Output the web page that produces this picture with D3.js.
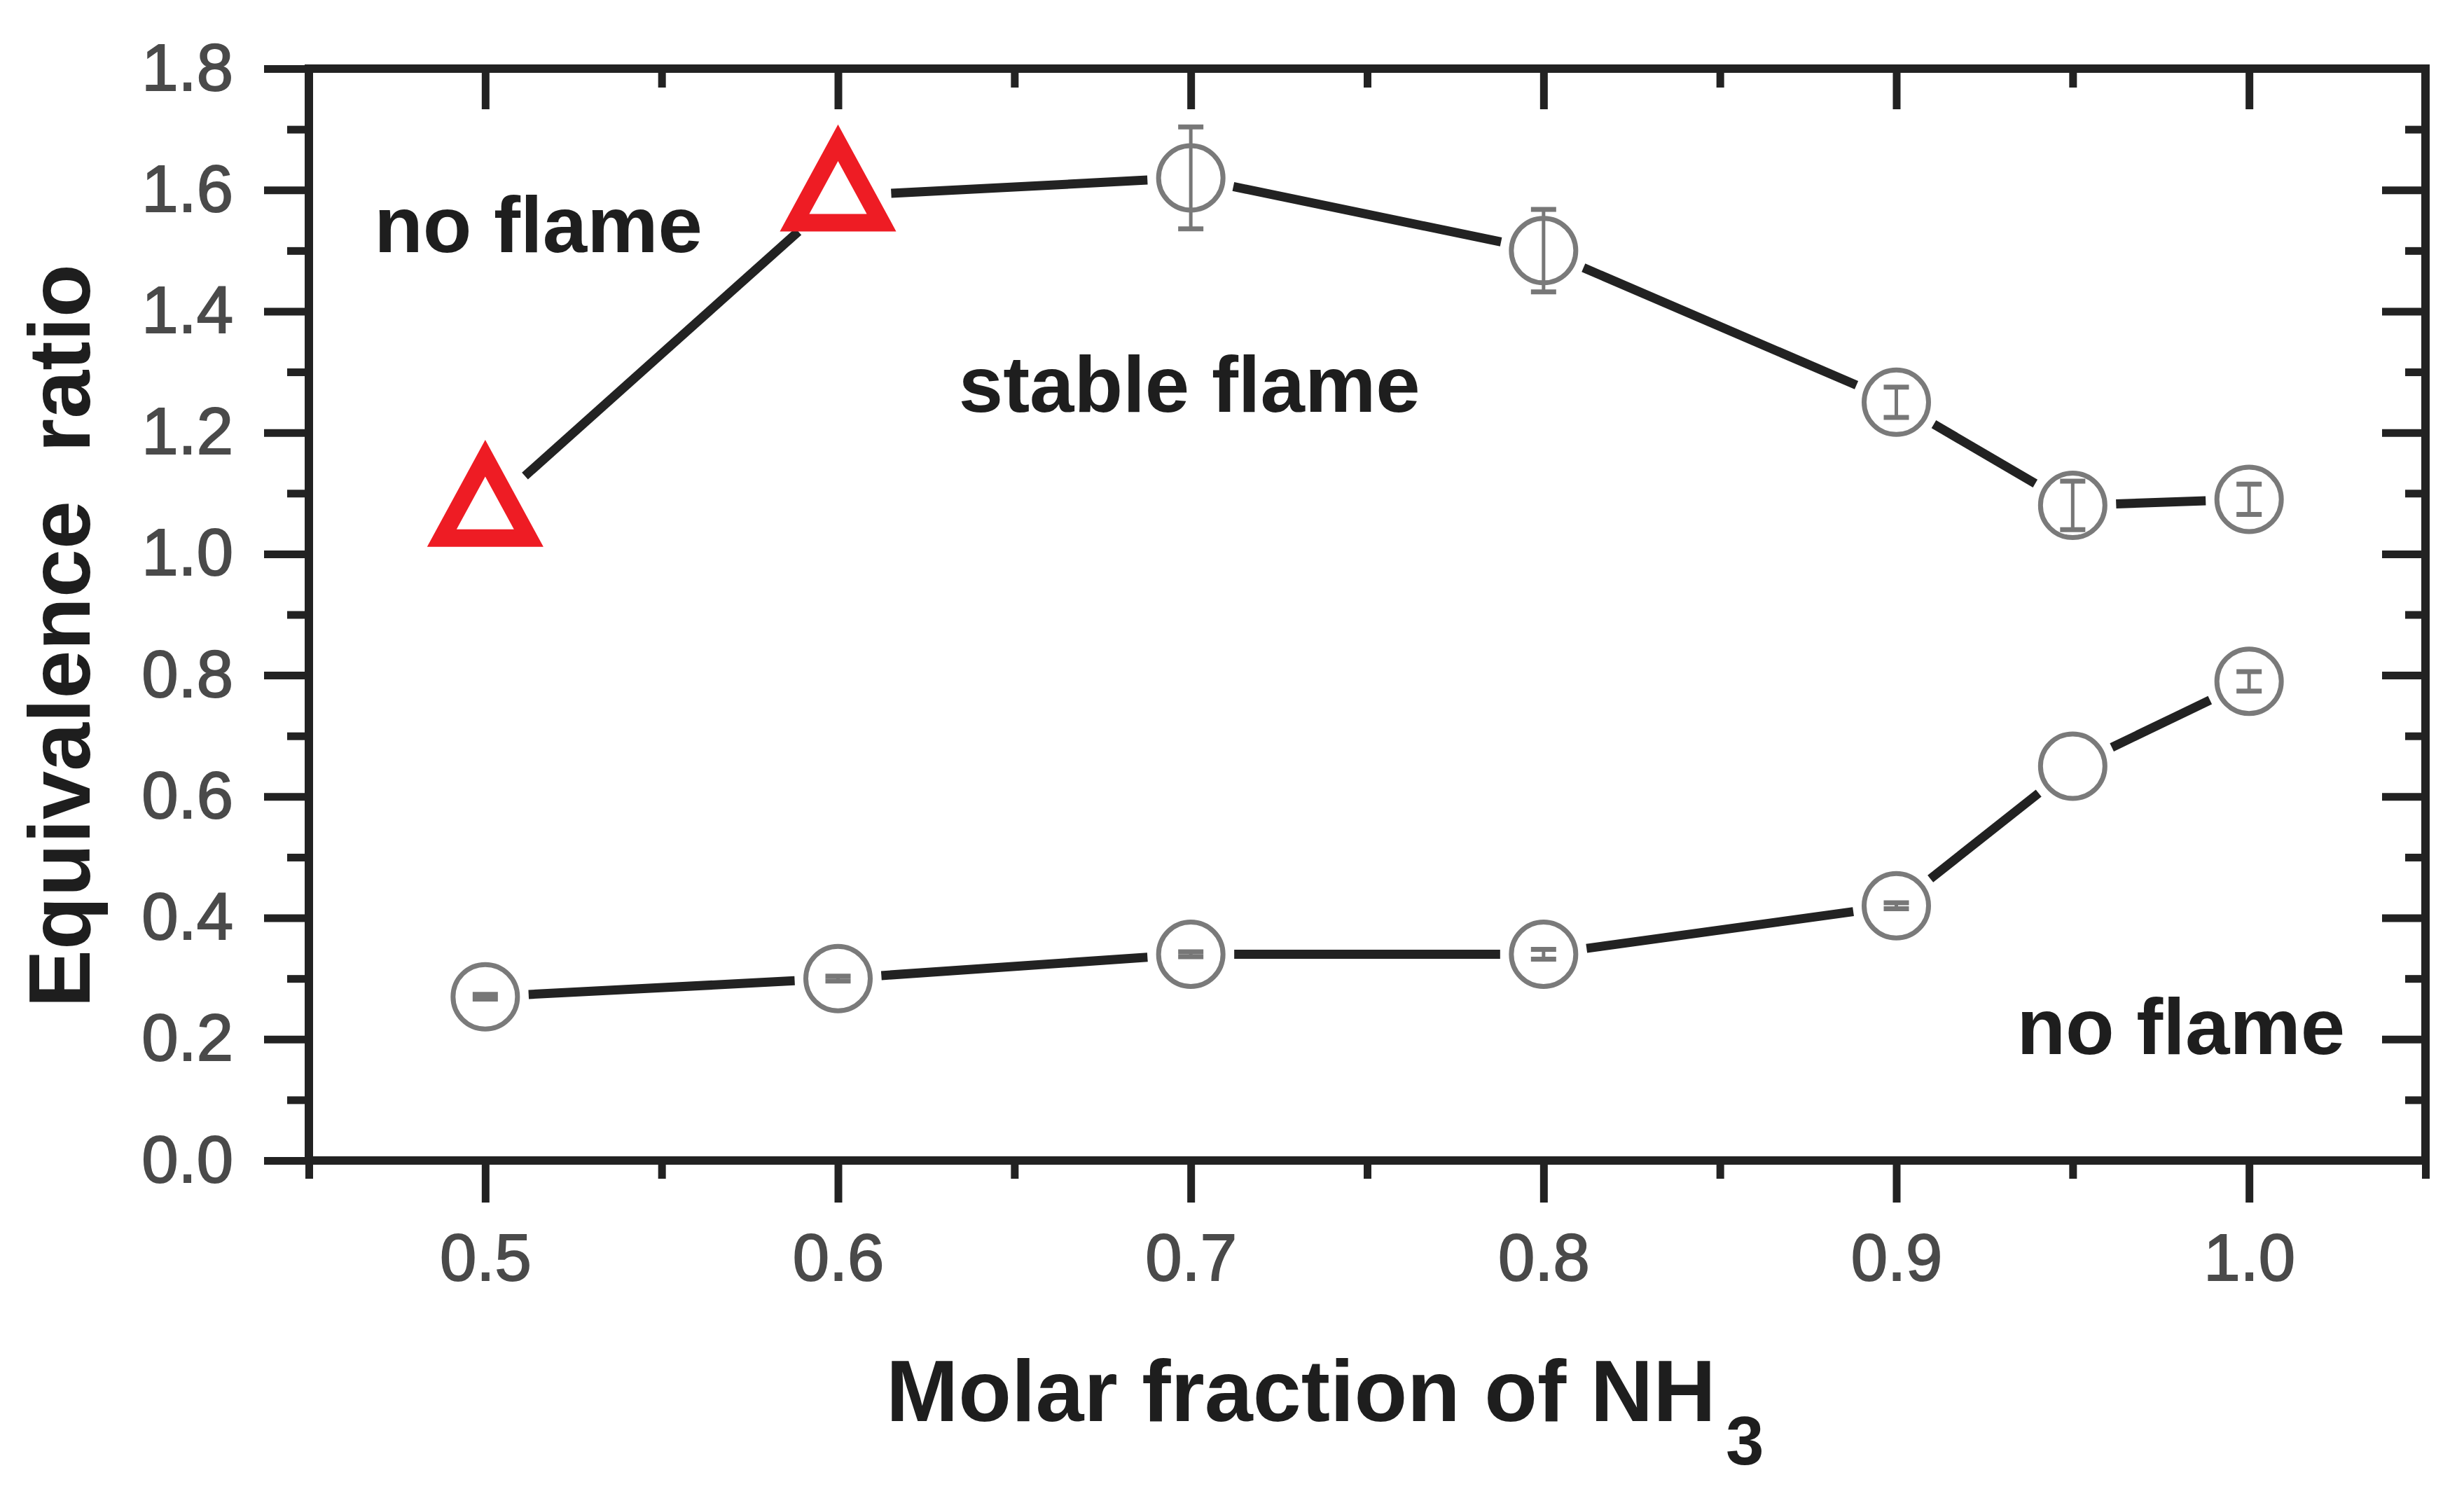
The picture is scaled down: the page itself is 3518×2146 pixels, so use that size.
<!DOCTYPE html>
<html>
<head>
<meta charset="utf-8">
<script src="https://cdn.jsdelivr.net/npm/d3@7"></script>
<style>
  html, body { margin: 0; padding: 0; background: #ffffff; }
  svg { display: block; }
</style>
</head>
<body>
<svg id="chart" width="3518" height="2146"></svg>
<script>
// ---------------- data ----------------
const xValues     = [0.5, 0.6, 0.7, 0.8, 0.9, 0.95, 1.0];
const upperLimit  = [1.07, 1.59, 1.62, 1.50, 1.25, 1.08, 1.09];
const upperError  = [0, 0, 0.084, 0.068, 0.025, 0.04, 0.025];
const upperMarker = ["triangle", "triangle", "circle", "circle", "circle", "circle", "circle"];
const lowerLimit  = [0.27, 0.30, 0.34, 0.34, 0.42, 0.65, 0.79];
const lowerError  = [0.004, 0.004, 0.004, 0.008, 0.005, 0, 0.016];
const lowerMarker = ["circle", "circle", "circle", "circle", "circle", "circle", "circle"];

const xMajorTicks = [0.5, 0.6, 0.7, 0.8, 0.9, 1.0];
const xMinorTicks = [0.45, 0.55, 0.65, 0.75, 0.85, 0.95, 1.05];
const yMajorTicks = [0.0, 0.2, 0.4, 0.6, 0.8, 1.0, 1.2, 1.4, 1.6, 1.8];
const yMinorTicks = [0.1, 0.3, 0.5, 0.7, 0.9, 1.1, 1.3, 1.5, 1.7];

const xTitle = "Molar fraction of NH";
const xTitleSub = "3";
const yTitle = "Equivalence  ratio";
const annotations = [
  { text: "no flame",     x: 0.4685, y: 1.497, anchor: "start" },
  { text: "stable flame", x: 0.6342, y: 1.234, anchor: "start" },
  { text: "no flame",     x: 1.0272, y: 0.176, anchor: "end" }
];

// ---------------- layout ----------------
const L = 441, R = 3463, T = 98, B = 1657;
const svg = d3.select("#chart");
const x = d3.scaleLinear().domain([0.45, 1.05]).range([L, R]);
const y = d3.scaleLinear().domain([0, 1.8]).range([B, T]);

const AXIS = "#222222";
const FONT = "'Liberation Sans', Arial, Helvetica, sans-serif";

function styleAxis(g) {
  g.select(".domain").remove();
  g.selectAll(".tick line").attr("stroke", AXIS).attr("stroke-width", 11);
  g.selectAll(".tick text")
    .attr("fill", "#4a4a4a")
    .attr("stroke", "#4a4a4a").attr("stroke-width", 2)
    .attr("font-family", FONT)
    .attr("font-size", 94);
}

// bottom axis (major with labels, minor)
svg.append("g").attr("transform", `translate(0,${B})`)
  .call(d3.axisBottom(x).tickValues(xMajorTicks).tickSize(60).tickPadding(44)
        .tickFormat(d3.format(".1f")))
  .call(styleAxis);
svg.append("g").attr("transform", `translate(0,${B})`)
  .call(d3.axisBottom(x).tickValues(xMinorTicks).tickSize(26).tickFormat(""))
  .call(styleAxis);
// top axis (ticks inward)
svg.append("g").attr("transform", `translate(0,${T})`)
  .call(d3.axisBottom(x).tickValues(xMajorTicks).tickSize(58).tickFormat(""))
  .call(styleAxis);
svg.append("g").attr("transform", `translate(0,${T})`)
  .call(d3.axisBottom(x).tickValues(xMinorTicks.filter(v => v > 0.46 && v < 1.04)).tickSize(27).tickFormat(""))
  .call(styleAxis);
// left axis
svg.append("g").attr("transform", `translate(${L},0)`)
  .call(d3.axisLeft(y).tickValues(yMajorTicks).tickSize(64).tickPadding(44)
        .tickFormat(d3.format(".1f")))
  .call(styleAxis);
svg.append("g").attr("transform", `translate(${L},0)`)
  .call(d3.axisLeft(y).tickValues(yMinorTicks).tickSize(31).tickFormat(""))
  .call(styleAxis);
// right axis (ticks inward)
svg.append("g").attr("transform", `translate(${R},0)`)
  .call(d3.axisLeft(y).tickValues(yMajorTicks.filter(v => v > 0.01 && v < 1.79)).tickSize(62).tickFormat(""))
  .call(styleAxis);
svg.append("g").attr("transform", `translate(${R},0)`)
  .call(d3.axisLeft(y).tickValues(yMinorTicks).tickSize(29).tickFormat(""))
  .call(styleAxis);

// frame
svg.append("rect")
  .attr("x", L).attr("y", T).attr("width", R - L).attr("height", B - T)
  .attr("fill", "none").attr("stroke", AXIS).attr("stroke-width", 12);

// ---------------- series ----------------
const CIRCLE_R = 46;
const TRI_W = 124, TRI_H = 114;
const clearance = { circle: 62, triangle: 76 };

function drawSeries(vals, errs, markers) {
  const pts = xValues.map((xv, i) => ({
    px: x(xv), py: y(vals[i]), v: vals[i], e: errs[i], m: markers[i]
  }));
  const g = svg.append("g");
  // connecting segments with gaps around markers
  for (let i = 0; i < pts.length - 1; i++) {
    const a = pts[i], b = pts[i + 1];
    const dx = b.px - a.px, dy = b.py - a.py;
    const len = Math.hypot(dx, dy);
    const ca = clearance[a.m], cb = clearance[b.m];
    g.append("line")
      .attr("x1", a.px + dx * ca / len).attr("y1", a.py + dy * ca / len)
      .attr("x2", b.px - dx * cb / len).attr("y2", b.py - dy * cb / len)
      .attr("stroke", "#222222").attr("stroke-width", 13)
      .attr("stroke-linecap", "butt");
  }
  // error bars
  pts.filter(p => p.e > 0 && p.m === "circle").forEach(p => {
    const y1 = y(p.v + p.e), y2 = y(p.v - p.e);
    g.append("line").attr("x1", p.px).attr("x2", p.px).attr("y1", y1).attr("y2", y2)
      .attr("stroke", "#777777").attr("stroke-width", 5);
    [y1, y2].forEach(yy => g.append("line")
      .attr("x1", p.px - 18).attr("x2", p.px + 18).attr("y1", yy).attr("y2", yy)
      .attr("stroke", "#777777").attr("stroke-width", 7));
  });
  // markers
  pts.forEach(p => {
    if (p.m === "circle") {
      g.append("circle").attr("cx", p.px).attr("cy", p.py).attr("r", CIRCLE_R)
        .attr("fill", "none").attr("stroke", "#7a7a7a").attr("stroke-width", 7);
    } else {
      const path = d3.path();
      path.moveTo(p.px, p.py - TRI_H * 2 / 3);
      path.lineTo(p.px + TRI_W / 2, p.py + TRI_H / 3);
      path.lineTo(p.px - TRI_W / 2, p.py + TRI_H / 3);
      path.closePath();
      g.append("path").attr("d", path.toString())
        .attr("fill", "none").attr("stroke", "#ee1c24").attr("stroke-width", 25)
        .attr("stroke-linejoin", "miter");
    }
  });
}
drawSeries(upperLimit, upperError, upperMarker);
drawSeries(lowerLimit, lowerError, lowerMarker);

// ---------------- texts ----------------
annotations.forEach(a => {
  svg.append("text")
    .attr("x", x(a.x)).attr("y", y(a.y))
    .attr("text-anchor", a.anchor)
    .attr("font-family", FONT).attr("font-weight", "bold").attr("font-size", 114)
    .attr("fill", "#1e1e1e")
    .text(a.text);
});

const xt = svg.append("text")
  .attr("x", 1265).attr("y", 2029)
  .attr("font-family", FONT).attr("font-weight", "bold").attr("font-size", 124)
  .attr("fill", "#1e1e1e");
xt.append("tspan").text(xTitle);
xt.append("tspan").attr("dx", 14).attr("dy", 62).attr("font-size", 98).text(xTitleSub);

svg.append("text")
  .attr("transform", "translate(128,908) rotate(-90)")
  .attr("text-anchor", "middle")
  .attr("font-family", FONT).attr("font-weight", "bold").attr("font-size", 124)
  .attr("fill", "#1e1e1e")
  .style("white-space", "pre")
  .text(yTitle);
</script>
</body>
</html>
